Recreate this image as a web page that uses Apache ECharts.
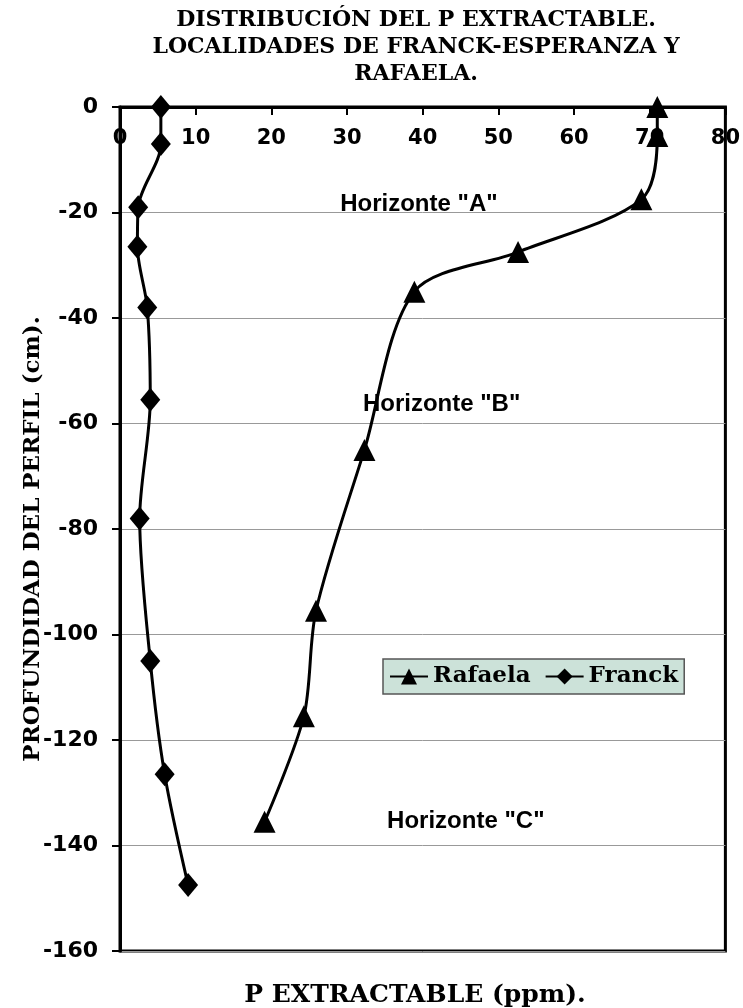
<!DOCTYPE html>
<html lang="es">
<head>
<meta charset="UTF-8">
<title>P extractable</title>
<script src="https://cdn.jsdelivr.net/npm/echarts@6/dist/echarts.min.js"></script>
<style>
  html, body { margin: 0; padding: 0; background: #fff; }
  #chart { width: 743px; height: 1008px; }
</style>
</head>
<body>
<div id="chart"></div>
<script>
// profundidad (cm) y P extractable (ppm)
var franckDepth = [0, -7, -19, -26.5, -38, -55.5, -78, -105, -126.5, -147.5];
var franckP     = [5.4, 5.4, 2.4, 2.3, 3.6, 4.0, 2.6, 4.0, 5.9, 9.0];
var rafaelaDepth = [0, -5.5, -17.5, -27.5, -35, -65, -95.5, -115.5, -135.5];
var rafaelaP     = [71, 71, 68.9, 52.6, 38.9, 32.3, 25.9, 24.3, 19.1];
// rotulos de horizontes
var horizNames = ['Horizonte "A"', 'Horizonte "B"', 'Horizonte "C"'];
var horizP     = [39.5, 42.5, 45.7];
var horizDepth = [-18.5, -56.3, -135.4];

function pairs(xs, ys) {
  return xs.map(function (x, i) { return [x, ys[i]]; });
}

var serif = '"DejaVu Serif", "Liberation Serif", serif';
var sans = '"DejaVu Sans", sans-serif';

var myChart = echarts.init(document.getElementById('chart'));
var option = {
  animation: false,
  title: {
    text: 'DISTRIBUCIÓN DEL P EXTRACTABLE.\nLOCALIDADES DE FRANCK-ESPERANZA Y\nRAFAELA.',
    left: 411,
    top: 2,
    textAlign: 'center',
    textStyle: { fontFamily: serif, fontWeight: 'bold', fontSize: 22, lineHeight: 27, color: '#000' }
  },
  legend: {
    data: ['Rafaela', 'Franck'],
    left: 383,
    top: 659,
    orient: 'horizontal',
    backgroundColor: '#cce2d9',
    borderColor: '#555',
    borderWidth: 1.5,
    padding: [6, 6],
    itemGap: 14,
    itemWidth: 38,
    itemHeight: 20,
    textStyle: { fontFamily: serif, fontWeight: 'bold', fontSize: 23, color: '#000' }
  },
  grid: {
    left: 120, right: 17, top: 107, bottom: 57,
    show: true, borderColor: '#000', borderWidth: 3
  },
  xAxis: {
    type: 'value',
    position: 'top',
    min: 0, max: 80, interval: 10,
    axisLine: { show: true, onZero: false, lineStyle: { color: '#000', width: 3 } },
    axisTick: { show: true, inside: true, length: 8, lineStyle: { color: '#000', width: 2 } },
    axisLabel: { inside: true, margin: 21, color: '#000', fontFamily: sans, fontWeight: 'bold', fontSize: 21 },
    splitLine: { show: false }
  },
  yAxis: {
    type: 'value',
    min: -160, max: 0, interval: 20,
    axisLine: { show: true, onZero: false, lineStyle: { color: '#000', width: 3 } },
    axisTick: { show: true, length: 8, lineStyle: { color: '#000', width: 2 } },
    axisLabel: { margin: 22, color: '#000', fontFamily: sans, fontWeight: 'bold', fontSize: 22 },
    splitLine: { show: true, lineStyle: { color: '#999', width: 1 } }
  },
  series: [
    {
      name: 'Rafaela',
      type: 'line',
      data: pairs(rafaelaP, rafaelaDepth),
      smooth: 0.3,
      symbol: 'triangle',
      symbolSize: 22,
      lineStyle: { color: '#000', width: 3 },
      itemStyle: { color: '#000' },
      z: 3
    },
    {
      name: 'Franck',
      type: 'line',
      data: pairs(franckP, franckDepth),
      smooth: 0.3,
      symbol: 'diamond',
      symbolSize: [20, 24],
      lineStyle: { color: '#000', width: 3 },
      itemStyle: { color: '#000' },
      z: 3
    }
  ]
};
myChart.setOption(option);

// textos: rotulos de horizontes ubicados por coordenadas de datos, y nombres de ejes
var texts = horizNames.map(function (n, i) {
  var p = myChart.convertToPixel({ gridIndex: 0 }, [horizP[i], horizDepth[i]]);
  return {
    type: 'text', x: p[0], y: p[1], z: 1, silent: true,
    style: {
      text: n, fill: '#000', align: 'center', verticalAlign: 'middle',
      font: 'bold 24px "Liberation Sans", Arial, sans-serif'
    }
  };
});
texts.push({
  type: 'text', x: 415, y: 995,
  style: {
    text: 'P EXTRACTABLE (ppm).', fill: '#000', align: 'center', verticalAlign: 'middle',
    font: 'bold 25px "DejaVu Serif", "Liberation Serif", serif'
  }
});
texts.push({
  type: 'text', x: 33, y: 539, rotation: Math.PI / 2,
  style: {
    text: 'PROFUNDIDAD DEL PERFIL (cm).', fill: '#000', align: 'center', verticalAlign: 'middle',
    font: 'bold 23px "DejaVu Serif", "Liberation Serif", serif'
  }
});
myChart.setOption({ graphic: texts });
</script>
</body>
</html>
